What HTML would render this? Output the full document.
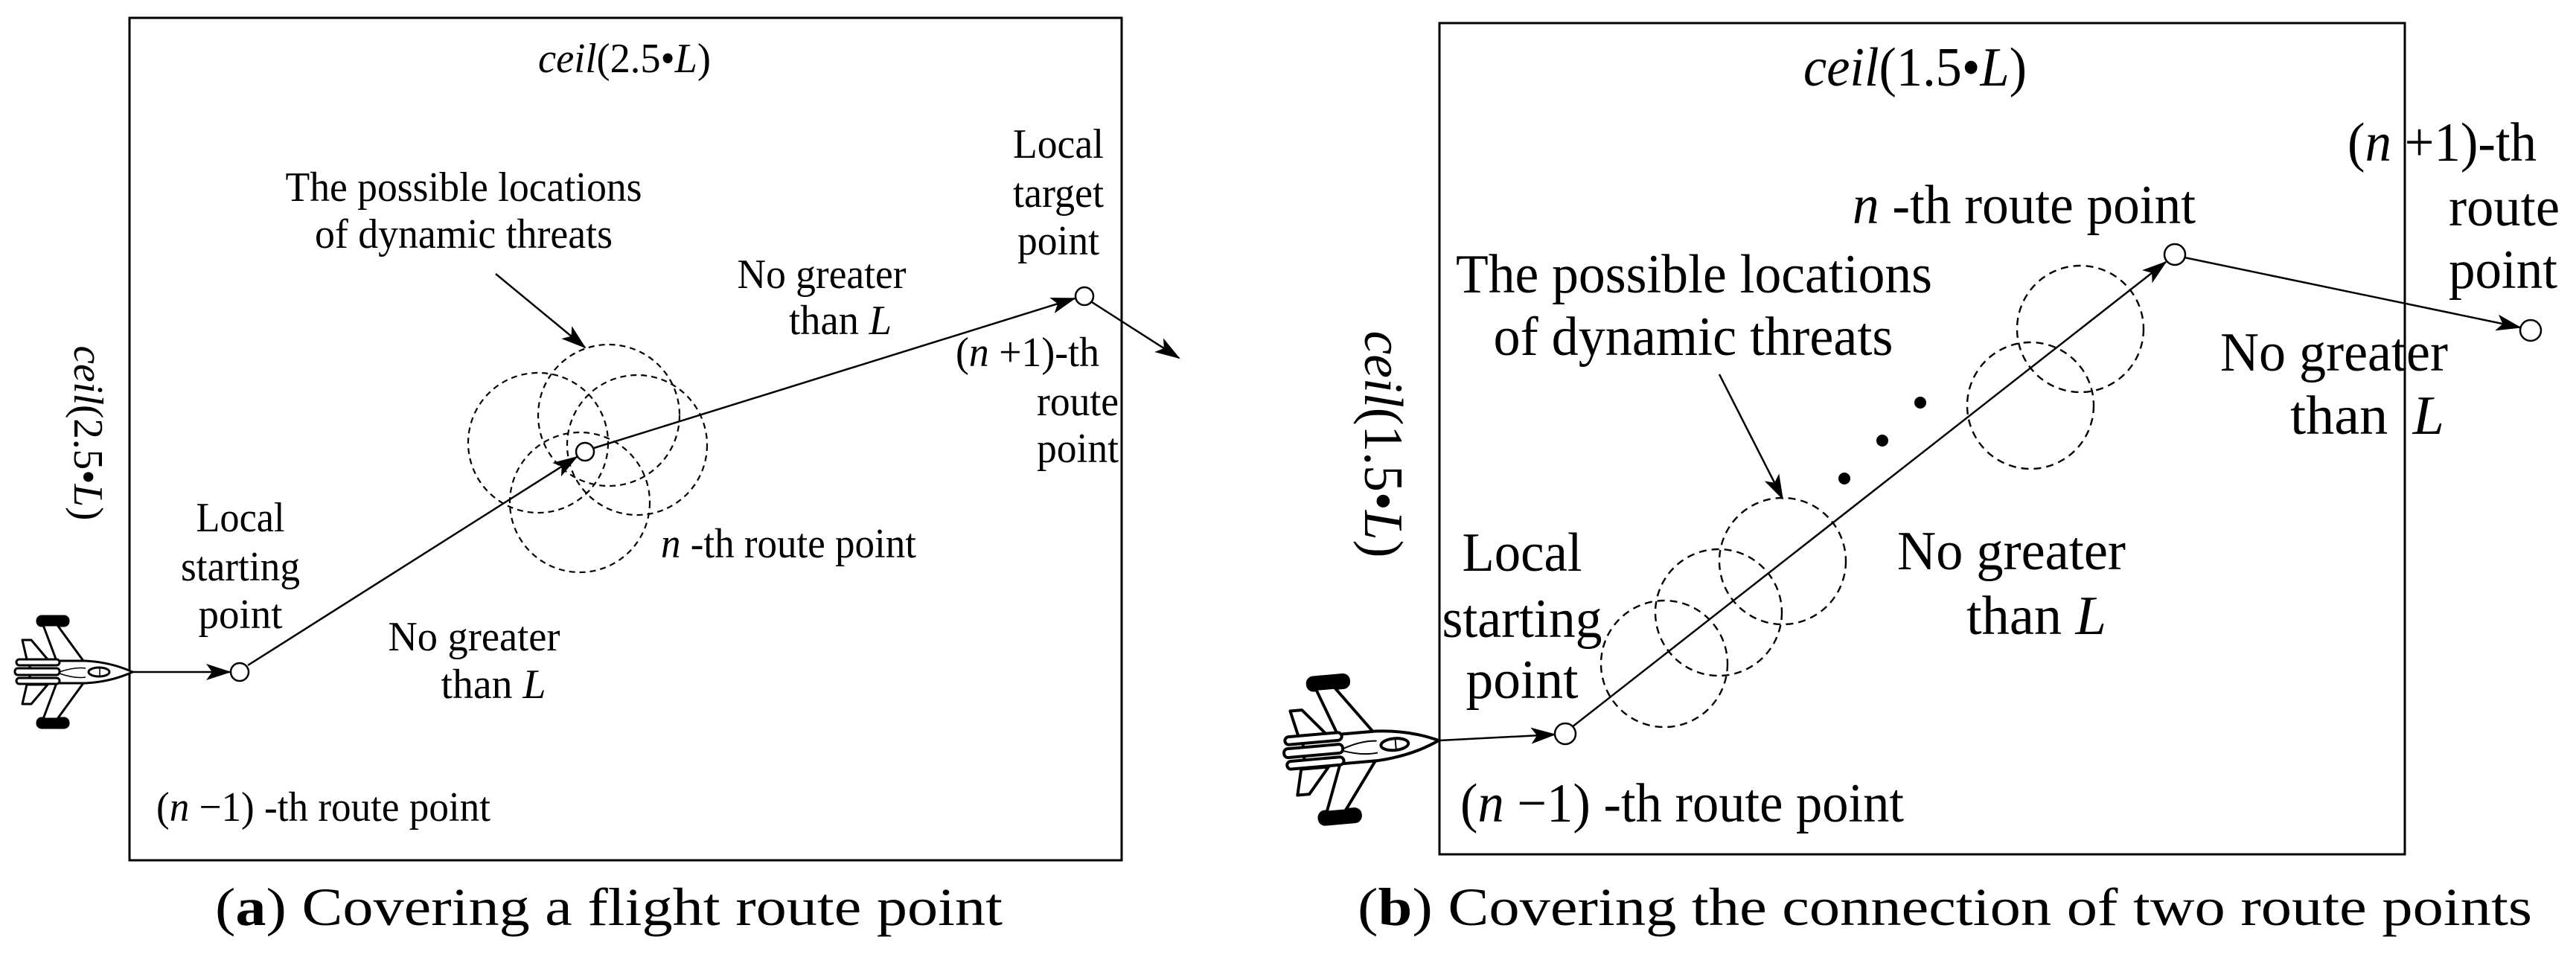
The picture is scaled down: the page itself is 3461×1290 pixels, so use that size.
<!DOCTYPE html>
<html><head><meta charset="utf-8"><style>
html,body{margin:0;padding:0;background:#fff}
svg{display:block}
svg text{font-family:"Liberation Serif","Times New Roman",serif !important;fill:#000}
.i{font-style:italic}
</style></head><body>
<svg width="3461" height="1290" viewBox="0 0 3461 1290" xmlns="http://www.w3.org/2000/svg" font-family="Liberation Serif, serif">
<defs>
<marker id="ar" markerWidth="34" markerHeight="22" refX="32" refY="11" orient="auto" markerUnits="userSpaceOnUse">
<path d="M0,0 L34,11 L0,22 L8,11 Z" fill="#000"/>
</marker>
<g id="plane" stroke="#000" stroke-width="3" fill="#fff" stroke-linejoin="round">
<rect x="50" y="828" width="42" height="13" rx="6" fill="#000"/>
<rect x="50" y="965" width="42" height="13" rx="6" fill="#000"/>
<path d="M58,840 L77,840 L112,888 L76,888 Z"/>
<path d="M58,966 L77,966 L112,918 L76,918 Z"/>
<path d="M30,860 L42,860 L64,886 L36,886 Z"/>
<path d="M30,946 L42,946 L64,920 L36,920 Z"/>
<path d="M40,888 L115,888 Q150,890 178,903 Q150,916 115,918 L40,918 Z"/>
<rect x="22" y="886" width="58" height="8" rx="4"/>
<rect x="20" y="898" width="60" height="9" rx="4"/>
<rect x="22" y="911" width="58" height="8" rx="4"/>
<path d="M80,903 Q100,896 115,898" fill="none" stroke-width="1.5"/>
<path d="M80,905 Q100,912 115,910" fill="none" stroke-width="1.5"/>
<ellipse cx="133" cy="903" rx="14" ry="6"/>
<line x1="134" y1="897" x2="134" y2="909" stroke-width="1.5"/>
</g>
</defs>

<!-- ============ (a) ============ -->
<rect x="174" y="24" width="1333" height="1132" fill="none" stroke="#000" stroke-width="3"/>
<use href="#plane"/>
<g fill="none" stroke="#000" stroke-width="2.2" stroke-dasharray="8,6">
<circle cx="723" cy="595" r="94"/>
<circle cx="818" cy="558" r="95"/>
<circle cx="856" cy="598" r="94"/>
<circle cx="779" cy="675" r="94"/>
</g>
<g stroke="#000" stroke-width="2.5" fill="none">
<line x1="178" y1="903" x2="309" y2="903" marker-end="url(#ar)"/>
<line x1="333" y1="894" x2="775" y2="614" marker-end="url(#ar)"/>
<line x1="798" y1="602" x2="1444" y2="401" marker-end="url(#ar)"/>
<line x1="1467" y1="406" x2="1584" y2="481" marker-end="url(#ar)"/>
<line x1="666" y1="368" x2="786" y2="467" marker-end="url(#ar)"/>
</g>
<g fill="#fff" stroke="#000" stroke-width="2.5">
<circle cx="322" cy="903" r="12"/>
<circle cx="786" cy="607" r="12"/>
<circle cx="1457" cy="398" r="12"/>
</g>
<g font-size="56">
<text x="839" y="97" text-anchor="middle" textLength="232" lengthAdjust="spacingAndGlyphs"><tspan class="i">ceil</tspan>(2.5•<tspan class="i">L</tspan>)</text>
<text transform="translate(100,582) rotate(90)" text-anchor="middle" textLength="235" lengthAdjust="spacingAndGlyphs"><tspan class="i">ceil</tspan>(2.5•<tspan class="i">L</tspan>)</text>
<text x="623" y="270" text-anchor="middle" textLength="479" lengthAdjust="spacingAndGlyphs">The possible locations</text>
<text x="623" y="333" text-anchor="middle" textLength="400" lengthAdjust="spacingAndGlyphs">of dynamic threats</text>
<text x="1104" y="387" text-anchor="middle" textLength="227" lengthAdjust="spacingAndGlyphs">No greater</text>
<text x="1129" y="449" text-anchor="middle" textLength="138" lengthAdjust="spacingAndGlyphs">than <tspan class="i">L</tspan></text>
<text x="1422" y="212" text-anchor="middle" textLength="122" lengthAdjust="spacingAndGlyphs">Local</text>
<text x="1422" y="278" text-anchor="middle" textLength="122" lengthAdjust="spacingAndGlyphs">target</text>
<text x="1422" y="342" text-anchor="middle" textLength="110" lengthAdjust="spacingAndGlyphs">point</text>
<text x="1284" y="492" textLength="193" lengthAdjust="spacingAndGlyphs">(<tspan class="i">n</tspan> +1)-th</text>
<text x="1393" y="558" textLength="110" lengthAdjust="spacingAndGlyphs">route</text>
<text x="1393" y="621" textLength="110" lengthAdjust="spacingAndGlyphs">point</text>
<text x="323" y="714" text-anchor="middle" textLength="119" lengthAdjust="spacingAndGlyphs">Local</text>
<text x="323" y="780" text-anchor="middle" textLength="160" lengthAdjust="spacingAndGlyphs">starting</text>
<text x="323" y="844" text-anchor="middle" textLength="113" lengthAdjust="spacingAndGlyphs">point</text>
<text x="637" y="874" text-anchor="middle" textLength="231" lengthAdjust="spacingAndGlyphs">No greater</text>
<text x="663" y="938" text-anchor="middle" textLength="141" lengthAdjust="spacingAndGlyphs">than <tspan class="i">L</tspan></text>
<text x="888" y="749" textLength="343" lengthAdjust="spacingAndGlyphs"><tspan class="i">n</tspan> -th route point</text>
<text x="210" y="1103" textLength="449" lengthAdjust="spacingAndGlyphs">(<tspan class="i">n</tspan> −1) -th route point</text>
</g>
<text x="289" y="1243" font-size="72" textLength="1058" lengthAdjust="spacingAndGlyphs">(<tspan font-weight="bold">a</tspan>) Covering a flight route point</text>

<!-- ============ (b) ============ -->
<rect x="1934" y="31" width="1297" height="1117" fill="none" stroke="#000" stroke-width="3"/>
<use href="#plane" transform="translate(1933,995) rotate(-5) scale(1.32) translate(-178,-903)"/>
<g fill="none" stroke="#000" stroke-width="2.4" stroke-dasharray="10,7">
<circle cx="2236" cy="892" r="85"/>
<circle cx="2309" cy="823" r="85"/>
<circle cx="2395" cy="754" r="85"/>
<circle cx="2728" cy="545" r="85"/>
<circle cx="2795" cy="442" r="85"/>
</g>
<g fill="#000">
<circle cx="2580" cy="541" r="8"/>
<circle cx="2529" cy="592" r="8"/>
<circle cx="2478" cy="643" r="8"/>
</g>
<g stroke="#000" stroke-width="2.5" fill="none">
<line x1="1934" y1="995" x2="2089" y2="987" marker-end="url(#ar)"/>
<line x1="2112" y1="977" x2="2910" y2="352" marker-end="url(#ar)"/>
<line x1="2935" y1="346" x2="3386" y2="440" marker-end="url(#ar)"/>
<line x1="2310" y1="503" x2="2395" y2="670" marker-end="url(#ar)"/>
</g>
<g fill="#fff" stroke="#000" stroke-width="2.5">
<circle cx="2103" cy="986" r="14"/>
<circle cx="2922" cy="342" r="14"/>
<circle cx="3400" cy="444" r="14"/>
</g>
<g font-size="74">
<text x="2573" y="115" text-anchor="middle" textLength="300" lengthAdjust="spacingAndGlyphs"><tspan class="i">ceil</tspan>(1.5•<tspan class="i">L</tspan>)</text>
<text transform="translate(1834,597) rotate(90)" text-anchor="middle" textLength="305" lengthAdjust="spacingAndGlyphs"><tspan class="i">ceil</tspan>(1.5•<tspan class="i">L</tspan>)</text>
<text x="2276" y="393" text-anchor="middle" textLength="640" lengthAdjust="spacingAndGlyphs">The possible locations</text>
<text x="2275" y="477" text-anchor="middle" textLength="537" lengthAdjust="spacingAndGlyphs">of dynamic threats</text>
<text x="2489" y="300" textLength="461" lengthAdjust="spacingAndGlyphs"><tspan class="i">n</tspan> -th route point</text>
<text x="3154" y="216" textLength="254" lengthAdjust="spacingAndGlyphs">(<tspan class="i">n</tspan> +1)-th</text>
<text x="3290" y="303" textLength="149" lengthAdjust="spacingAndGlyphs">route</text>
<text x="3290" y="387" textLength="146" lengthAdjust="spacingAndGlyphs">point</text>
<text x="2983" y="498" textLength="306" lengthAdjust="spacingAndGlyphs">No greater</text>
<text x="3077" y="583" textLength="207" lengthAdjust="spacingAndGlyphs">than <tspan class="i" dx="14">L</tspan></text>
<text x="2549" y="765" textLength="307" lengthAdjust="spacingAndGlyphs">No greater</text>
<text x="2642" y="852" textLength="188" lengthAdjust="spacingAndGlyphs">than <tspan class="i">L</tspan></text>
<text x="2045" y="767" text-anchor="middle" textLength="161" lengthAdjust="spacingAndGlyphs">Local</text>
<text x="2045" y="856" text-anchor="middle" textLength="215" lengthAdjust="spacingAndGlyphs">starting</text>
<text x="2045" y="938" text-anchor="middle" textLength="151" lengthAdjust="spacingAndGlyphs">point</text>
<text x="1962" y="1104" textLength="596" lengthAdjust="spacingAndGlyphs">(<tspan class="i">n</tspan> −1) -th route point</text>
</g>
<text x="1824" y="1243" font-size="72" textLength="1578" lengthAdjust="spacingAndGlyphs">(<tspan font-weight="bold">b</tspan>) Covering the connection of two route points</text>
</svg>
</body></html>
